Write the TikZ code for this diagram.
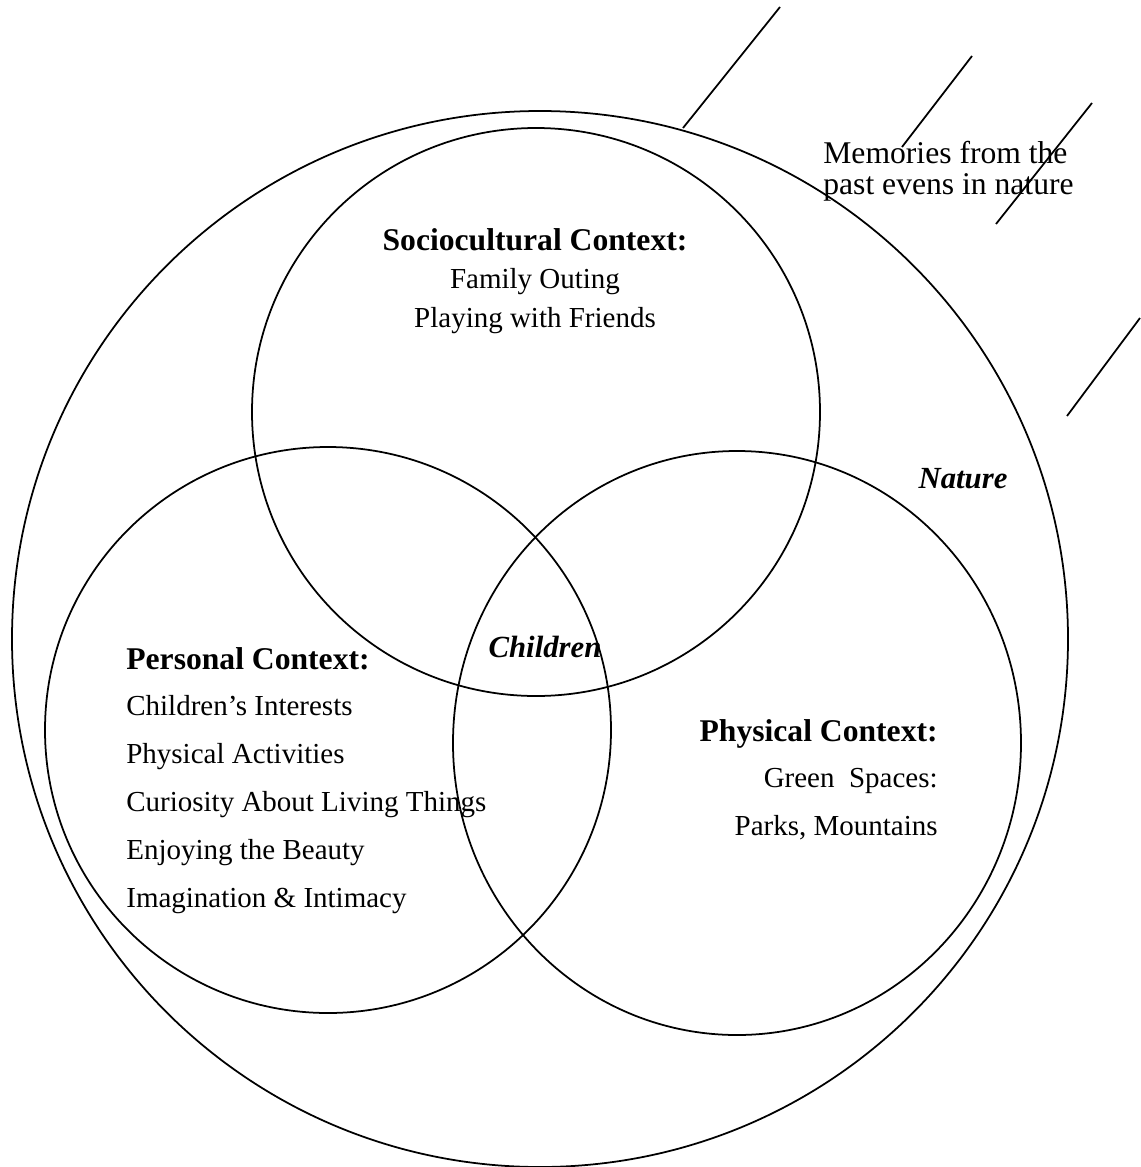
\documentclass[tikz,border=0pt]{standalone}
\usepackage{fontspec}
\setmainfont{Liberation Serif}
\usetikzlibrary{positioning}

\begin{document}
\begin{tikzpicture}[
    x=0.02cm, y=-0.02cm,
    ring/.style={draw, line width=1pt},
    hatch/.style={draw, line width=1pt},
    heading/.style={inner sep=0pt, font=\fontsize{18}{22}\selectfont\bfseries},
    item/.style={inner sep=0pt, font=\fontsize{16.5}{20}\selectfont},
    memo/.style={inner sep=0pt, font=\fontsize{18}{22}\selectfont},
    tag/.style={inner sep=0pt, font=\fontsize{17.5}{21}\selectfont\bfseries\itshape}
]
\useasboundingbox (0,0) rectangle (1140,1167);

% Circles
\coordinate (nat) at (540,639);
\coordinate (soc) at (536,412);
\coordinate (per) at (328,730);
\coordinate (phy) at (737,743);
\draw[ring] (nat) circle [radius=528];
\draw[ring] (soc) circle [radius=284];
\draw[ring] (per) circle [radius=283];
\draw[ring] (phy) ellipse [x radius=284, y radius=292];

% Hatching lines
\draw[hatch] (683,128) -- (780,7);
\draw[hatch] (902,147) -- (972,56);
\draw[hatch] (996,224) -- (1092,103);
\draw[hatch] (1067,416) -- (1140,318);

% Memories
\node[memo, anchor=base west] (mem1) at (823,163) {Memories from the};
\node[memo, anchor=base west] (mem2) at (823,194) {past evens in nature};

% Sociocultural context
\node[heading, anchor=base] (sochead) at (535,250) {Sociocultural Context:};
\node[item, anchor=base] (soc1) at (535,288) {Family Outing};
\node[item, anchor=base] (soc2) at (535,327) {Playing with Friends};

% Personal context
\node[heading, anchor=base west] (perhead) at (126,669) {Personal Context:};
\foreach \txt [count=\i] in {Children’s Interests, Physical Activities, Curiosity About Living Things, Enjoying the Beauty, Imagination \& Intimacy}
  \node[item, anchor=base west] (per\i) at (126,{667+48*\i}) {\txt};

% Physical context
\node[heading, anchor=base east] (phyhead) at (938,741) {Physical Context:};
\node[item, anchor=base east] (phy1) at (938,787) {Green~~Spaces:};
\node[item, anchor=base east] (phy2) at (938,835) {Parks, Mountains};

% Labels
\node[tag, anchor=base] (nature) at (963,488) {Nature};
\node[tag, anchor=base] (children) at (545,657) {Children};

\end{tikzpicture}
\end{document}
